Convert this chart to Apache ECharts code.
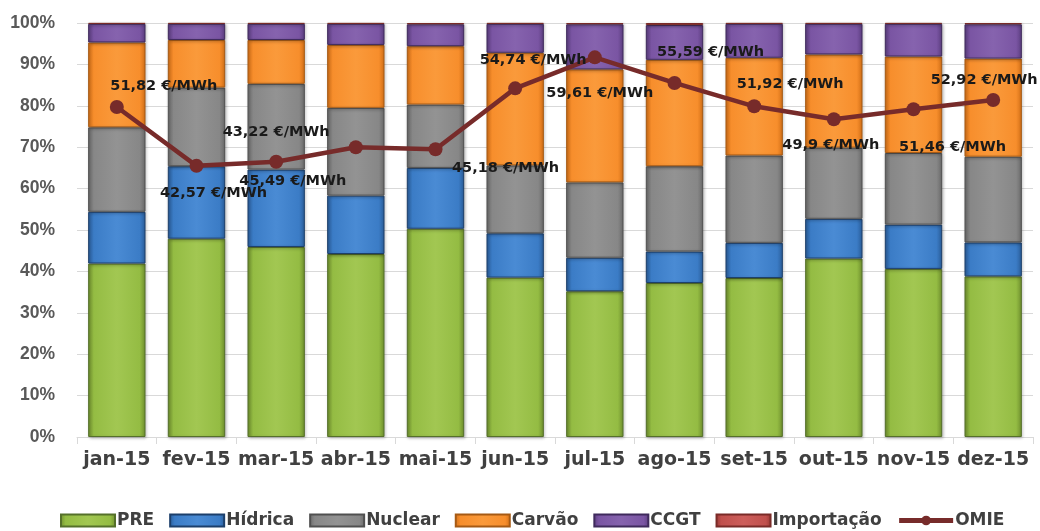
<!DOCTYPE html>
<html><head><meta charset="utf-8">
<script src="https://cdn.jsdelivr.net/npm/echarts@6/dist/echarts.min.js"></script>
<style>html,body{margin:0;padding:0;background:#fff}#c{width:1040px;height:531px}</style>
</head><body><div id="c"></div>
<script>
const categories = ['jan-15','fev-15','mar-15','abr-15','mai-15','jun-15','jul-15','ago-15','set-15','out-15','nov-15','dez-15'];
const pre        = [41.9, 47.9, 45.9, 44.2, 50.3, 38.5, 35.2, 37.2, 38.4, 43.1, 40.6, 38.8];
const hidrica    = [12.5, 17.5, 18.7, 14.1, 14.7, 10.7,  8.1,  7.6,  8.5,  9.6, 10.7,  8.2];
const nuclear    = [20.4, 19.0, 20.7, 21.2, 15.3, 16.4, 18.2, 20.6, 21.1, 17.2, 17.3, 20.7];
const carvao     = [20.5, 11.5, 10.6, 15.2, 14.1, 27.2, 27.3, 25.7, 23.6, 22.5, 23.3, 23.7];
const ccgt       = [ 4.5,  3.9,  3.9,  5.1,  5.3,  7.0, 10.9,  8.4,  8.2,  7.4,  7.9,  8.3];
const importacao = [ 0.2,  0.2,  0.2,  0.2,  0.3,  0.2,  0.3,  0.5,  0.2,  0.2,  0.2,  0.3];
const omie       = [51.82, 42.57, 43.22, 45.49, 45.18, 54.74, 59.61, 55.59, 51.92, 49.9, 51.46, 52.92];
const yTicks = ['0%','10%','20%','30%','40%','50%','60%','70%','80%','90%','100%'];

// label offsets for OMIE data labels (style only)
const labelOffsets = [[47,-21],[17,27],[0,-29],[-63,34],[70,19],[18,-28],[5,36],[36,-31],[36,-22],[-3,26],[39,38],[-9,-20]];

const FONT = 'DejaVu Sans';
function grad(dark, base, light) {
  return new echarts.graphic.LinearGradient(0, 0, 1, 0, [
    {offset: 0, color: dark}, {offset: 0.1, color: base},
    {offset: 0.5, color: light}, {offset: 0.9, color: base}, {offset: 1, color: dark}
  ]);
}
const styles = {
  PRE:        {dark:'#6f8f2e', base:'#94bc43', light:'#a2c752', border:'#55702a'},
  'Hídrica':  {dark:'#2a5d99', base:'#3b7cc6', light:'#4a8bd4', border:'#1c3f6b'},
  Nuclear:    {dark:'#6a6a6a', base:'#878787', light:'#939393', border:'#505050'},
  'Carvão':   {dark:'#d26f17', base:'#f78e2c', light:'#fa9a3b', border:'#a65a14'},
  CCGT:       {dark:'#5c3e80', base:'#7a55a3', light:'#8663ae', border:'#3f2a5c'},
  'Importação': {dark:'#963733', base:'#c0504d', light:'#cd5e5b', border:'#7a2b28'}
};
function barSeries(name, data) {
  const s = styles[name];
  return {
    name, type: 'bar', stack: 'total', data, barWidth: '72%',
    itemStyle: {color: grad(s.dark, s.base, s.light), borderColor: s.border, borderWidth: 1,
      shadowBlur: 3, shadowColor: 'rgba(0,0,0,0.25)', shadowOffsetX: 1, shadowOffsetY: 1},
    emphasis: {disabled: true}
  };
}
const chart = echarts.init(document.getElementById('c'), null, {renderer: 'canvas'});
chart.setOption({
  animation: false,
  backgroundColor: '#ffffff',
  grid: {left: 77, right: 7, top: 23, bottom: 94, containLabel: false},
  legend: {
    top: 512, left: 60, padding: 0, itemWidth: 54, itemHeight: 12, itemGap: 15,
    textStyle: {fontFamily: FONT, fontWeight: 'bold', fontSize: 17, color: '#404040', padding: [0,0,0,-3]},
    data: ['PRE','Hídrica','Nuclear','Carvão','CCGT','Importação'].map(n => ({name: n, icon: 'rect'}))
      .concat([{name: 'OMIE', lineStyle: {width: 5, color: '#772b2a'}}])
  },
  xAxis: {
    type: 'category', data: categories,
    axisLine: {lineStyle: {color: '#d9d9d9', width: 1}},
    axisTick: {show: true, length: 7, lineStyle: {color: '#d9d9d9'}},
    axisLabel: {fontFamily: FONT, fontWeight: 'bold', fontSize: 19, color: '#404040', margin: 14, interval: 0}
  },
  yAxis: [{
    type: 'value', min: 0, max: 100, interval: 10,
    axisLine: {show: false}, axisTick: {show: false},
    splitLine: {lineStyle: {color: '#d9d9d9', width: 1}},
    axisLabel: {fontFamily: 'Liberation Sans', fontWeight: 'bold', fontSize: 17.5, color: '#595959', margin: 22,
      formatter: (v) => yTicks[Math.round(v / 10)]}
  }, {
    type: 'value', min: 0, max: 65, show: false, splitLine: {show: false}
  }],
  series: [
    barSeries('PRE', pre),
    barSeries('Hídrica', hidrica),
    barSeries('Nuclear', nuclear),
    barSeries('Carvão', carvao),
    barSeries('CCGT', ccgt),
    barSeries('Importação', importacao),
    {
      name: 'OMIE', type: 'line', yAxisIndex: 1,
      data: omie.map((v, i) => ({value: v, label: {offset: labelOffsets[i]}})),
      symbol: 'circle', symbolSize: 14,
      lineStyle: {color: '#772b2a', width: 4.5},
      itemStyle: {color: '#772b2a'},
      label: {show: true, position: 'inside', fontFamily: FONT, fontWeight: 'bold', fontSize: 14.5, color: '#1a1a1a',
        formatter: (p) => String(p.value).replace('.', ',') + ' €/MWh'},
      z: 10, emphasis: {disabled: true}
    }
  ]
});
</script></body></html>
